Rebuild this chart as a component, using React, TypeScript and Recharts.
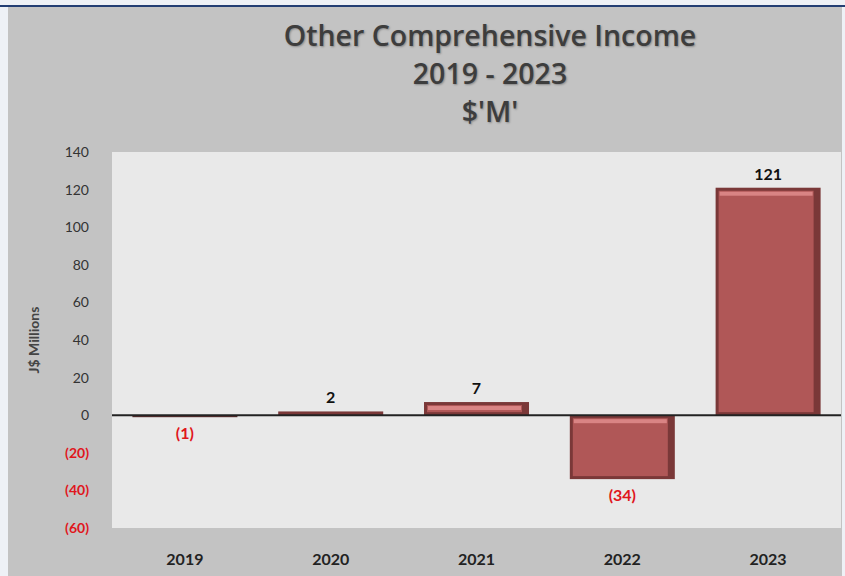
import React from "react";
import {
  BarChart,
  Bar,
  XAxis,
  YAxis,
  CartesianGrid,
  ReferenceLine,
  LabelList,
} from "recharts";

const years = ["2019", "2020", "2021", "2022", "2023"];
const income = [-1, 2, 7, -34, 121];
const yTicks = [-60, -40, -20, 0, 20, 40, 60, 80, 100, 120, 140];

const data = years.map((year, i) => ({ year, value: income[i] }));

const fmt = (v: number) => (v < 0 ? `(${Math.abs(v)})` : `${v}`);

const BevelBar = (props: any) => {
  const { x, width } = props;
  let { y, height } = props;
  if (height < 0) {
    y = y + height;
    height = -height;
  }
  if (height < 3) {
    return <rect x={x} y={y} width={width} height={Math.max(height, 2)} fill="#5a2c2c" />;
  }
  return (
    <g>
      <rect x={x} y={y} width={width} height={height} fill="#7a3838" />
      <rect x={x + 3} y={y + 3} width={width - 10} height={height - 6} fill="#b05757" />
      <rect x={x + 4} y={y + 4} width={width - 12} height={Math.min(4, height - 8)} fill="#d98484" />
    </g>
  );
};

const YTick = (props: any) => {
  const { x, y, payload } = props;
  const v = payload.value;
  return (
    <text
      x={x}
      y={y}
      dy={5}
      textAnchor="end"
      fontSize={14}
      fontFamily="Lato, sans-serif"
      fontWeight={v < 0 ? 700 : 400}
      fill={v < 0 ? "#e0161c" : "#333"}
    >
      {fmt(v)}
    </text>
  );
};

const ValueLabel = (props: any) => {
  const { x, y, width, height, value } = props;
  const neg = value < 0;
  const top = height < 0 ? y + height : y;
  const bottom = top + Math.abs(height);
  return (
    <text
      x={x + width / 2}
      y={neg ? bottom + 22 : top - 8}
      textAnchor="middle"
      fontSize={16}
      fontWeight={700}
      fontFamily="Lato, sans-serif"
      fill={neg ? "#e0161c" : "#111"}
    >
      {fmt(value)}
    </text>
  );
};

export default function App() {
  return (
    <div
      style={{
        position: "absolute",
        top: 0,
        left: 0,
        width: 845,
        height: 576,
        background: "#eef1f6",
        overflow: "hidden",
      }}
    >
      <div
        style={{
          position: "absolute",
          top: 5,
          left: 0,
          width: 845,
          height: 2,
          background: "#233e73",
        }}
      />
      <div
        style={{
          position: "absolute",
          top: 7,
          left: 8,
          width: 834,
          height: 569,
          background: "#c3c3c3",
        }}
      />
      <div
        style={{
          position: "absolute",
          top: 16,
          left: 180,
          width: 620,
          textAlign: "center",
          fontFamily: "'Open Sans', sans-serif",
          fontWeight: 600,
          fontSize: 28.5,
          lineHeight: "38px",
          color: "#3d3d3d",
          textShadow: "1px 1px 2px #8a8a8a",
        }}
      >
        <div>Other Comprehensive Income</div>
        <div>2019 - 2023</div>
        <div>$'M'</div>
      </div>
      <div style={{ position: "absolute", top: 0, left: 0 }}>
        <BarChart
          width={845}
          height={576}
          data={data}
          margin={{ top: 152, right: 4, bottom: 0, left: 0 }}
          barCategoryGap="14%"
        >
          <CartesianGrid horizontal={false} vertical={false} fill="#e9e9e9" />
          <XAxis
            dataKey="year"
            axisLine={false}
            tickLine={false}
            height={48}
            tickMargin={20}
            tick={{ fontSize: 16, fontWeight: 700, fill: "#222", fontFamily: "Lato, sans-serif" }}
          />
          <YAxis
            width={112}
            domain={[-60, 140]}
            ticks={yTicks}
            interval={0}
            axisLine={false}
            tickLine={false}
            tickMargin={17}
            tick={<YTick />}
            label={{
              value: "J$ Millions",
              angle: -90,
              position: "insideLeft",
              offset: 34,
              style: { textAnchor: "middle", fontSize: 14, fontWeight: 700, fill: "#444", fontFamily: "Lato, sans-serif" },
            }}
          />
          <ReferenceLine y={0} stroke="#222" strokeWidth={2} />
          <Bar dataKey="value" shape={<BevelBar />} isAnimationActive={false}>
            <LabelList dataKey="value" content={<ValueLabel />} />
          </Bar>
        </BarChart>
      </div>
    </div>
  );
}
